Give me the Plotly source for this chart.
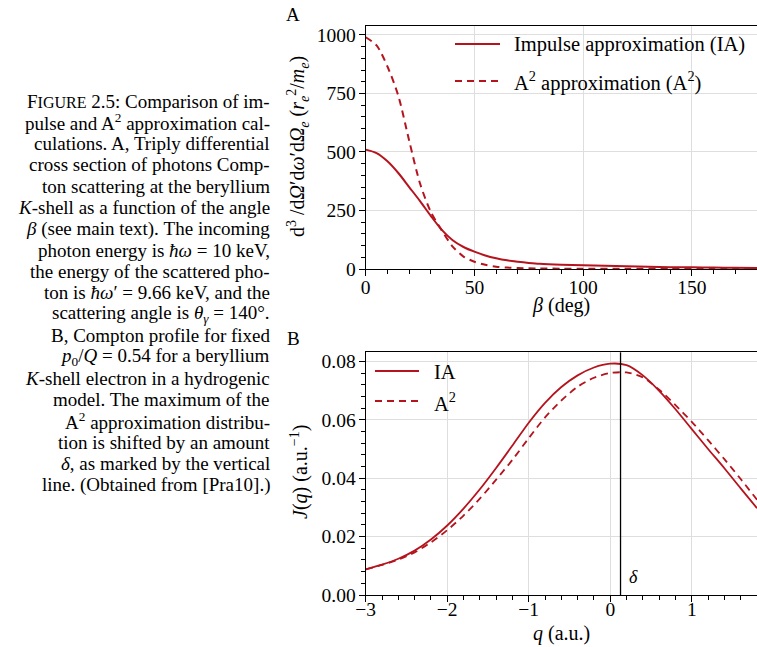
import plotly.graph_objects as go

# ---- data -------------------------------------------------------------
# Panel A: triply differential cross section vs. beta (deg)
beta_ia = [0, 5, 10, 15, 20, 25, 30, 35, 40, 45, 50, 55, 60, 65, 70, 75, 80,
           90, 100, 110, 120, 130, 140, 150, 160, 170, 180]
sigma_ia = [510, 495, 460, 410, 350, 290, 226, 167, 123, 94, 74, 58, 46, 37, 31,
            26, 22, 18, 16, 14, 12, 10, 8, 7, 6, 5, 4]

beta_a2 = [0, 5, 10, 15, 20, 25, 30, 35, 40, 45, 50, 55, 60, 65, 70, 75, 80,
           90, 100, 120, 140, 160, 180]
sigma_a2 = [990, 955, 865, 740, 548, 365, 243, 165, 96, 53, 31, 18, 10, 6, 4,
            3, 2, 1.5, 1, 1, 0.8, 0.6, 0.5]

# Panel B: Compton profile J(q)
q_vals = [-3.0, -2.8, -2.6, -2.4, -2.2, -2.0, -1.8, -1.6, -1.4, -1.2, -1.0,
          -0.8, -0.6, -0.4, -0.2, 0.0, 0.2, 0.4, 0.6, 0.8, 1.0, 1.2, 1.4,
          1.6, 1.8]
j_ia = [0.0088, 0.0104, 0.0124, 0.0152, 0.0190, 0.0238, 0.0296, 0.0362,
        0.0435, 0.0512, 0.0590, 0.0658, 0.0712, 0.0752, 0.0779, 0.0792,
        0.0787, 0.0752, 0.0699, 0.0636, 0.0568, 0.0500, 0.0434, 0.0365,
        0.0297]
j_a2 = [0.0088, 0.0103, 0.0121, 0.0146, 0.0180, 0.0222, 0.0272, 0.0330,
        0.0395, 0.0463, 0.0537, 0.0608, 0.0666, 0.0713, 0.0744, 0.0760,
        0.0762, 0.0745, 0.0703, 0.0650, 0.0593, 0.0530, 0.0465, 0.0397,
        0.0326]
delta_q = 0.126

caption_lines = [
    "F<span style='font-size:16px'>IGURE</span> 2.5: Comparison of im-",
    "pulse and A<sup>2</sup> approximation cal-",
    "culations. A, Triply differential",
    "cross section of photons Comp-",
    "ton scattering at the beryllium",
    "<i>K</i>-shell as a function of the angle",
    "<i>β</i> (see main text). The incoming",
    "photon energy is <i>ħω</i> = 10 keV,",
    "the energy of the scattered pho-",
    "ton is <i>ħω</i>′ = 9.66 keV, and the",
    "scattering angle is <i>θ<sub>γ</sub></i> = 140°.",
    "B, Compton profile for fixed",
    "<i>p</i><sub>0</sub>/<i>Q</i> = 0.54 for a beryllium",
    "<i>K</i>-shell electron in a hydrogenic",
    "model. The maximum of the",
    "A<sup>2</sup> approximation distribu-",
    "tion is shifted by an amount",
    "<i>δ</i>, as marked by the vertical",
    "line. (Obtained from [Pra10].)",
]

# ---- styling ----------------------------------------------------------
W, H = 757, 647
RED = "#b5141e"
FONT = "Liberation Serif"
DASH = "7px,5px"
GRID = "#dedede"
TICK_SIZE = 19.5
LABEL_SIZE = 20


def px(x):
    return x / W


def py(y):
    return 1 - y / H


fig = go.Figure()

fig.add_trace(go.Scatter(x=beta_ia, y=sigma_ia, mode="lines",
                         line=dict(color=RED, width=2, shape="spline",
                                   smoothing=0.8),
                         name="Impulse approximation (IA)",
                         xaxis="x", yaxis="y", showlegend=False))
fig.add_trace(go.Scatter(x=beta_a2, y=sigma_a2, mode="lines",
                         line=dict(color=RED, width=2, dash=DASH,
                                   shape="spline", smoothing=0.8),
                         name="A<sup>2</sup> approximation (A<sup>2</sup>)",
                         xaxis="x", yaxis="y", showlegend=False))
fig.add_trace(go.Scatter(x=q_vals, y=j_ia, mode="lines",
                         line=dict(color=RED, width=1.8, shape="spline",
                                   smoothing=0.8),
                         name="IA", xaxis="x2", yaxis="y2", showlegend=False))
fig.add_trace(go.Scatter(x=q_vals, y=j_a2, mode="lines",
                         line=dict(color=RED, width=1.8, dash=DASH,
                                   shape="spline", smoothing=0.8),
                         name="A<sup>2</sup>", xaxis="x2", yaxis="y2",
                         showlegend=False))

axis_common = dict(
    automargin=False,
    showline=True, linecolor="black", linewidth=1.3,
    ticks="outside", ticklen=6, tickwidth=1.2, tickcolor="black",
    showgrid=True, gridcolor=GRID, gridwidth=1, zeroline=False,
    tickfont=dict(family=FONT, size=TICK_SIZE, color="black"),
)
y_common = dict(axis_common, ticklabelstandoff=-1)

xa_dom = [px(365.7), 1.0]

fig.update_layout(
    template="none",
    width=W, height=H,
    margin=dict(l=0, r=0, t=0, b=0, pad=0),
    paper_bgcolor="white", plot_bgcolor="white",
    font=dict(family=FONT, color="black"),
    xaxis=dict(axis_common, ticklabelstandoff=-6, domain=xa_dom,
               range=[0, 180], dtick=50, mirror=True, anchor="y",
               minor=dict(dtick=10, ticks="outside", ticklen=4,
                          tickcolor="black", showgrid=False)),
    yaxis=dict(y_common, domain=[py(269), py(26)], range=[0, 1038],
               dtick=250, anchor="x",
               minor=dict(dtick=50, ticks="outside", ticklen=4,
                          tickcolor="black", showgrid=False)),
    xaxis2=dict(axis_common, ticklabelstandoff=-10, domain=xa_dom,
                range=[-3, 1.8], dtick=1, mirror=True, anchor="y2",
                minor=dict(dtick=0.2, ticks="outside", ticklen=4,
                           tickcolor="black", showgrid=False)),
    yaxis2=dict(y_common, domain=[py(595), py(352.3)], range=[0, 0.0831],
                dtick=0.02, tickformat=".2f", anchor="x2",
                minor=dict(dtick=0.004, ticks="outside", ticklen=4,
                           tickcolor="black", showgrid=False)),
)

shapes = []
# vertical marker of the shift delta
shapes.append(dict(type="line", xref="x2", yref="y2 domain",
                   x0=delta_q, x1=delta_q, y0=0, y1=1,
                   line=dict(color="black", width=1.3)))

annotations = []


def text(label, x, y, size, xanchor="center", angle=0, xref="paper"):
    annotations.append(dict(text=label, xref=xref, yref="paper",
                            x=x, y=py(y), xanchor=xanchor,
                            yanchor="middle", showarrow=False,
                            textangle=angle, borderpad=0,
                            font=dict(family=FONT, size=size, color="black")))


# legend samples
legend_rows = [
    (455, 500, 44, "solid", "Impulse approximation (IA)", 513),
    (455, 500, 81, DASH, "A<sup>2</sup> approximation (A<sup>2</sup>)", 513),
    (375, 419, 371, "solid", "IA", 433),
    (375, 419, 401, DASH, "A<sup>2</sup>", 433),
]
for x0, x1, y, dash, label, tx in legend_rows:
    shapes.append(dict(type="line", xref="paper", yref="paper",
                       x0=px(x0), x1=px(x1), y0=py(y), y1=py(y),
                       line=dict(color=RED, width=2, dash=dash)))
    text(label, px(tx), y + 1, 20.5, xanchor="left")

# axis titles
text("d<sup>3</sup> /d<i>Ω</i>′d<i>ω</i>′d<i>Ω<sub>e</sub></i> "
     "(<i>r<sub>e</sub></i><sup>2</sup>/<i>m<sub>e</sub></i>)",
     px(298), 147, LABEL_SIZE, angle=-90)
text("<i>β</i> (deg)", px(561), 305, LABEL_SIZE)
text("<i>J</i>(<i>q</i>) (a.u.<sup>−1</sup>)", px(299), 472, LABEL_SIZE,
     angle=-90)
text("<i>q</i> (a.u.)", px(561), 633, LABEL_SIZE)

# panel letters
text("A", px(293), 15, 19)
text("B", px(293), 338, 19)

# delta label next to the marker
text("<i>δ</i>", delta_q + 0.09, 577, 18, xanchor="left", xref="x2")

# caption, right aligned
for i, line in enumerate(caption_lines):
    text(line, px(271), 101 + i * 21.33, 19, xanchor="right")

fig.update_layout(shapes=shapes, annotations=annotations)

fig.write_html("out.html")
